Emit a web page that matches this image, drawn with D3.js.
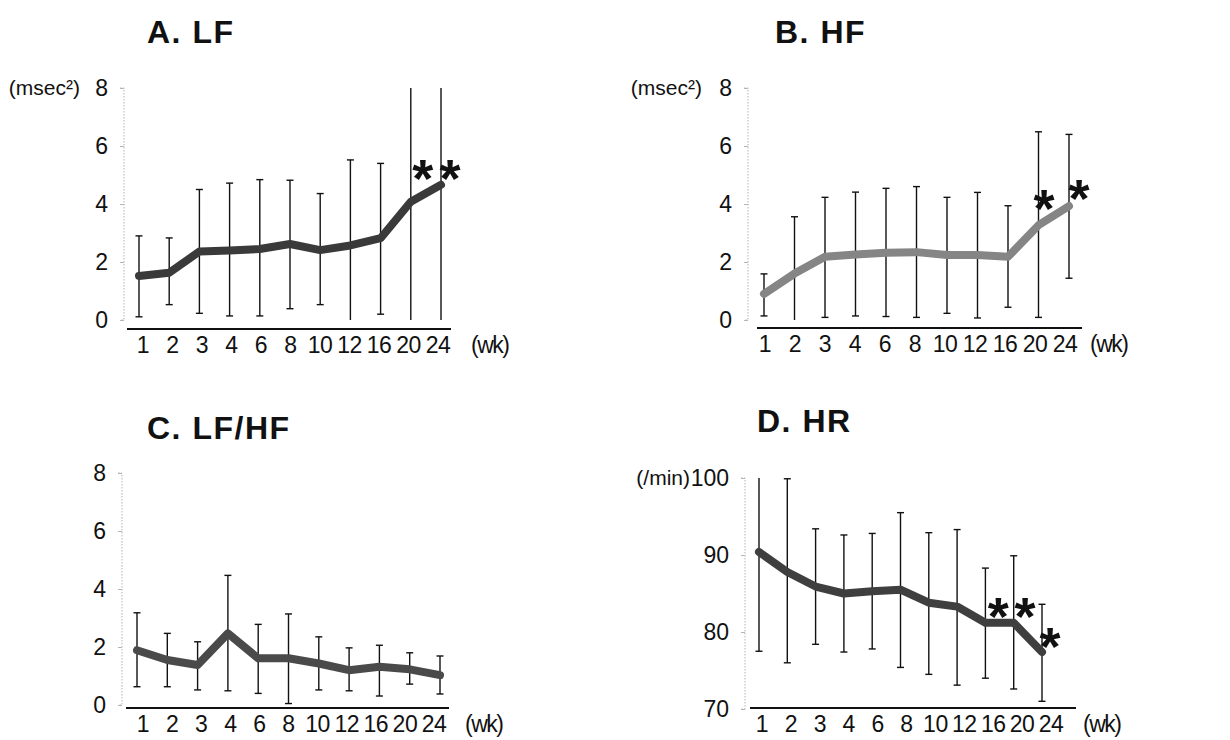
<!DOCTYPE html>
<html>
<head>
<meta charset="utf-8">
<script src="https://cdn.jsdelivr.net/npm/d3@7"></script>
<style>
  body { margin: 0; background: #fff; }
  svg { font-family: "Liberation Sans", Arial, Helvetica, sans-serif; }
</style>
</head>
<body>
<svg id="chart" width="1230" height="740"></svg>
<script>
// week labels shared by all four panels
const weeks = ["1", "2", "3", "4", "6", "8", "10", "12", "16", "20", "24"];

// A. LF (msec^2)
const lfMean = [1.52, 1.63, 2.36, 2.4, 2.45, 2.62, 2.41, 2.57, 2.82, 4.08, 4.66];
const lfLow  = [0.11, 0.53, 0.23, 0.14, 0.14, 0.39, 0.53, -0.3, 0.2, -1, -1];
const lfHigh = [2.9, 2.83, 4.5, 4.72, 4.84, 4.82, 4.36, 5.52, 5.4, 9, 9];
const lfStars = [[9.4, 5.07], [10.3, 5.07]];

// B. HF (msec^2)
const hfMean = [0.9, 1.6, 2.18, 2.26, 2.32, 2.34, 2.24, 2.24, 2.18, 3.27, 3.93];
const hfLow  = [0.14, -0.2, 0.09, 0.14, 0.12, 0.09, 0.23, 0.07, 0.44, 0.09, 1.44];
const hfHigh = [1.59, 3.56, 4.23, 4.41, 4.54, 4.6, 4.23, 4.4, 3.94, 6.49, 6.4];
const hfStars = [[9.18, 4.03], [10.33, 4.38]];

// C. LF/HF
const ratioMean = [1.89, 1.55, 1.38, 2.47, 1.61, 1.61, 1.43, 1.2, 1.32, 1.23, 1.03];
const ratioLow  = [0.63, 0.63, 0.52, 0.49, 0.4, 0.05, 0.52, 0.49, 0.31, 0.72, 0.38];
const ratioHigh = [3.18, 2.47, 2.18, 4.47, 2.78, 3.14, 2.35, 1.97, 2.06, 1.8, 1.69];

// D. HR (/min)
const hrMean = [90.4, 87.8, 85.9, 85.0, 85.3, 85.5, 83.8, 83.3, 81.2, 81.2, 77.4];
const hrLow  = [77.5, 76.0, 78.4, 77.4, 77.8, 75.4, 74.5, 73.1, 74.0, 72.6, 71.0];
const hrHigh = [102, 99.9, 93.4, 92.6, 92.8, 95.5, 92.9, 93.3, 88.3, 89.9, 83.6];
const hrStars = [[8.45, 82.8], [9.4, 82.8], [10.28, 78.9]];

// y tick values
const powerTicks = [0, 2, 4, 6, 8];
const hrTicks = [70, 80, 90, 100];

const svg = d3.select("#chart");

// layout for each panel (pixel positions only, data comes from the arrays above)
const panels = [
  { title: "A. LF", unit: "(msec²)", mean: lfMean, low: lfLow, high: lfHigh, stars: lfStars, ticks: powerTicks,
    color: "#3a3a3a", titleX: 147, titleY: 43, unitX: 80, axisX: 124, yRange: [320, 88],
    dataX: [139, 441], labelX: [143, 438], baseX: [127, 451], baseY: 329, wkX: 471 },
  { title: "B. HF", unit: "(msec²)", mean: hfMean, low: hfLow, high: hfHigh, stars: hfStars, ticks: powerTicks,
    color: "#858585", titleX: 775, titleY: 43, unitX: 702, axisX: 748, yRange: [320, 88],
    dataX: [764, 1069], labelX: [765, 1065], baseX: [757, 1082], baseY: 328, wkX: 1090 },
  { title: "C. LF/HF", unit: null, mean: ratioMean, low: ratioLow, high: ratioHigh, stars: [], ticks: powerTicks,
    color: "#4a4a4a", titleX: 147, titleY: 439, unitX: 0, axisX: 122, yRange: [705, 473],
    dataX: [137, 440], labelX: [143, 434], baseX: [126, 449], baseY: 708, wkX: 465 },
  { title: "D. HR", unit: "(/min)", mean: hrMean, low: hrLow, high: hrHigh, stars: hrStars, ticks: hrTicks,
    color: "#3f3f3f", titleX: 757, titleY: 432, unitX: 690, axisX: 745, yRange: [709, 478],
    dataX: [759, 1042], labelX: [762, 1051], baseX: [750, 1076], baseY: 708, wkX: 1083 }
];

panels.forEach(drawPanel);

function drawPanel(p) {
  const g = svg.append("g");
  const domain = d3.extent(p.ticks);

  const y = d3.scaleLinear().domain(domain).range(p.yRange).clamp(true);
  const x = d3.scaleLinear().domain([0, weeks.length - 1]).range(p.dataX);
  const xLabel = d3.scalePoint().domain(weeks).range(p.labelX);

  // title
  g.append("text")
    .attr("x", p.titleX)
    .attr("y", p.titleY)
    .attr("font-size", 32)
    .attr("font-weight", "bold")
    .attr("letter-spacing", 1.5)
    .attr("fill", "#111")
    .text(p.title);

  // faint dotted y axis with small ticks on the left
  const yAxis = g.append("g")
    .attr("transform", `translate(${p.axisX},0)`)
    .call(d3.axisLeft(y).tickValues(p.ticks).tickSize(4).tickPadding(12));
  yAxis.select(".domain").attr("stroke", "#b5b5b5").attr("stroke-dasharray", "1.5,1.5").attr("d", `M-4,${p.yRange[1]}H0V${p.yRange[0]}H-4`);
  yAxis.selectAll(".tick line").attr("stroke", "#b5b5b5");
  yAxis.selectAll(".tick text").attr("font-size", 23).attr("fill", "#111").attr("font-family", null);

  if (p.unit) {
    g.append("text")
      .attr("x", p.unitX)
      .attr("y", y(domain[1]))
      .attr("dy", "0.35em")
      .attr("text-anchor", "end")
      .attr("font-size", 21)
      .attr("fill", "#111")
      .text(p.unit);
  }

  // solid x baseline with week labels
  g.append("line")
    .attr("x1", p.baseX[0]).attr("x2", p.baseX[1])
    .attr("y1", p.baseY).attr("y2", p.baseY)
    .attr("stroke", "#111").attr("stroke-width", 2.2);

  g.append("g")
    .selectAll("text")
    .data(weeks)
    .join("text")
    .attr("x", (d) => xLabel(d))
    .attr("y", p.baseY + 24)
    .attr("text-anchor", "middle")
    .attr("font-size", 23)
    .attr("letter-spacing", -0.5)
    .attr("fill", "#111")
    .text((d) => d);

  g.append("text")
    .attr("x", p.wkX)
    .attr("y", p.baseY + 24)
    .attr("font-size", 23)
    .attr("letter-spacing", -1.5)
    .attr("fill", "#111")
    .text("(wk)");

  // error bars (caps only where the bar ends inside the axis range)
  const bars = weeks.map((w, i) => ({ i, lo: p.low[i], hi: p.high[i] }));
  const eb = g.append("g").attr("stroke", "#111").attr("stroke-width", 1.4);
  eb.selectAll("line.v")
    .data(bars)
    .join("line")
    .attr("class", "v")
    .attr("x1", (d) => x(d.i)).attr("x2", (d) => x(d.i))
    .attr("y1", (d) => y(d.lo)).attr("y2", (d) => y(d.hi));
  const caps = [];
  bars.forEach((d) => {
    if (d.lo >= domain[0]) caps.push({ i: d.i, v: d.lo });
    if (d.hi <= domain[1]) caps.push({ i: d.i, v: d.hi });
  });
  eb.selectAll("line.cap")
    .data(caps)
    .join("line")
    .attr("class", "cap")
    .attr("x1", (d) => x(d.i) - 3.5).attr("x2", (d) => x(d.i) + 3.5)
    .attr("y1", (d) => y(d.v)).attr("y2", (d) => y(d.v));

  // thick mean line
  const line = d3.line().x((d, i) => x(i)).y((d) => y(d));
  g.append("path")
    .datum(p.mean)
    .attr("d", line)
    .attr("fill", "none")
    .attr("stroke", p.color)
    .attr("stroke-width", 8)
    .attr("stroke-linejoin", "round")
    .attr("stroke-linecap", "round");

  // significance asterisks
  g.append("g")
    .selectAll("text")
    .data(p.stars)
    .join("text")
    .attr("x", (d) => x(d[0]))
    .attr("y", (d) => y(d[1]))
    .attr("dy", "0.45em")
    .attr("text-anchor", "middle")
    .attr("font-size", 54)
    .attr("font-weight", "bold")
    .attr("fill", "#111")
    .text("*");
}
</script>
</body>
</html>
